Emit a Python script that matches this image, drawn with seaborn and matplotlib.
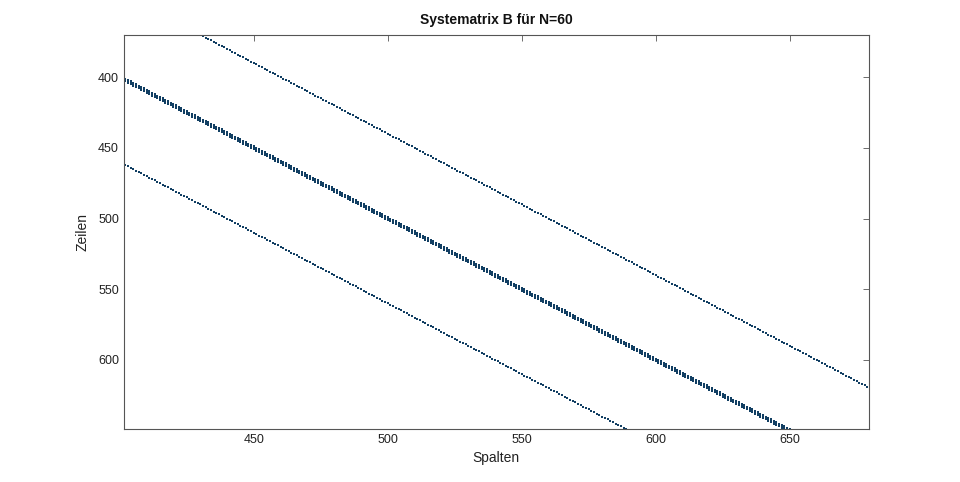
import numpy as np
import pandas as pd
import matplotlib
matplotlib.use("Agg")
import matplotlib.pyplot as plt
import seaborn as sns

# Matrix structure (Systemmatrix B for N=60): nonzero diagonals
N = 60
diag_offsets = [-60, -1, 0, 1, 60]
col_range = [395, 690]
x_ticks = [450, 500, 550, 600, 650]
y_ticks = [400, 450, 500, 550, 600]
title = "Systematrix B für N=60"
xlabel = "Spalten"
ylabel = "Zeilen"

rows, cols = [], []
for off in diag_offsets:
    for c in range(col_range[0], col_range[1] + 1):
        r = c - off
        rows.append(r)
        cols.append(c)
df = pd.DataFrame({"Spalten": cols, "Zeilen": rows})

sns.set_theme(style="white")
plt.rcParams["font.family"] = ["Liberation Sans", "DejaVu Sans"]

fig = plt.figure(figsize=(9.6, 4.82), dpi=100)
ax = fig.add_axes([0.129, 0.110, 0.776, 0.817])
sns.scatterplot(data=df, x="Spalten", y="Zeilen", ax=ax, s=1.6, marker="s",
                color="#123f63", linewidth=0)

ax.set_xlim(401.5, 679.5)
ax.set_ylim(648.8, 370.3)
ax.set_xticks(x_ticks)
ax.set_yticks(y_ticks)
ax.tick_params(direction="in", length=4, width=0.6, color="#555555",
               top=True, right=True, labelsize=9, labelcolor="#222222")
for s in ax.spines.values():
    s.set_color("#555555")
    s.set_linewidth(0.8)
ax.set_xlabel(xlabel, fontsize=10, color="#222222", labelpad=4)
ax.set_ylabel(ylabel, fontsize=10, color="#222222", labelpad=6)
ax.set_title(title, fontsize=10, fontweight="bold", color="#111111", pad=8)

fig.savefig("out.png", dpi=100)
